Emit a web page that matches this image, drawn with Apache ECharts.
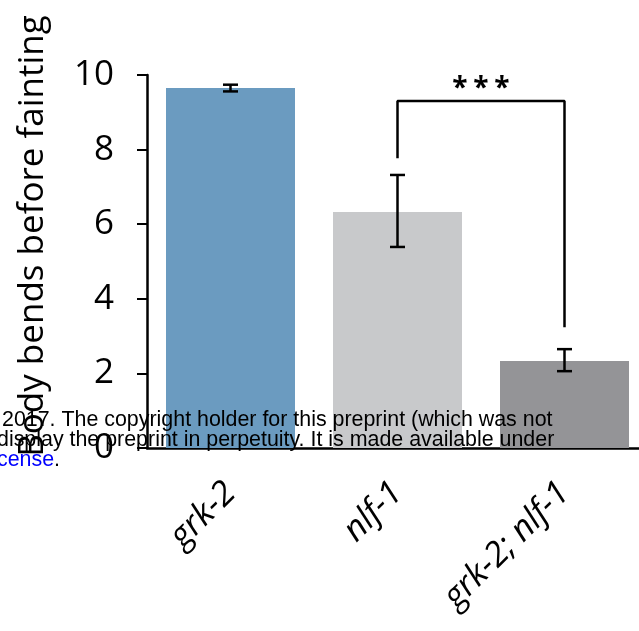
<!DOCTYPE html>
<html>
<head>
<meta charset="utf-8">
<script src="https://cdn.jsdelivr.net/npm/echarts@6/dist/echarts.min.js"></script>
<style>
html, body { margin: 0; padding: 0; background: #fff; }
#chart { width: 639px; height: 631px; }
</style>
</head>
<body>
<div id="chart"></div>
<script>
// data
const categories = ['grk-2', 'nlf-1', 'grk-2; nlf-1']
const means = [9.65, 6.33, 2.33]
const errLow = [9.56, 5.39, 2.06]
const errHigh = [9.74, 7.32, 2.65]
const barColors = ['#6b9bc0', '#c8c9cb', '#949497']
// significance bracket between nlf-1 and grk-2; nlf-1
const bracketPoints = [[1, 7.77], [1, 9.3], [2, 9.3], [2, 3.24]]
const sigLabel = '***'
const sigY = 10.0
const yTitle = 'Body bends before fainting'
const noticeLines = [
	'2017. The copyright holder for this preprint (which was not',
	'display the preprint in perpetuity. It is made available under',
]

const chart = echarts.init(document.getElementById('chart'))

const option = {
	animation: false,
	grid: { left: 147, top: 75, width: 501, height: 373, outerBoundsMode: 'none' },
	xAxis: {
		type: 'category',
		data: categories,
		axisLine: { lineStyle: { color: '#000', width: 2.5 } },
		axisTick: { show: false },
		axisLabel: {
			rotate: 45,
			margin: 40,
			color: '#000',
			fontSize: 34,
			fontStyle: 'italic',
			fontFamily: 'Open Sans',
		},
	},
	yAxis: {
		type: 'value',
		min: 0,
		max: 10,
		interval: 2,
		splitLine: { show: false },
		axisLine: { show: true, lineStyle: { color: '#000', width: 2.5 } },
		axisTick: { show: true, length: 10, lineStyle: { color: '#000', width: 2 } },
		axisLabel: { margin: 33, color: '#000', fontSize: 35, fontFamily: 'Open Sans' },
	},
	series: [
		{
			type: 'bar',
			barWidth: 129,
			data: means.map((v, i) => ({ value: v, itemStyle: { color: barColors[i] } })),
		},
		{
			// error bars
			type: 'custom',
			z: 5,
			data: categories.map((c, i) => [i, errLow[i], errHigh[i]]),
			renderItem(params, api) {
				const lo = api.coord([api.value(0), api.value(1)])
				const hi = api.coord([api.value(0), api.value(2)])
				const cap = 7.5
				const style = { stroke: '#000', lineWidth: 2.5 }
				return {
					type: 'group',
					children: [
						{ type: 'line', shape: { x1: lo[0], y1: lo[1], x2: hi[0], y2: hi[1] }, style },
						{ type: 'line', shape: { x1: lo[0] - cap, y1: lo[1], x2: lo[0] + cap, y2: lo[1] }, style },
						{ type: 'line', shape: { x1: hi[0] - cap, y1: hi[1], x2: hi[0] + cap, y2: hi[1] }, style },
					],
				}
			},
		},
		{
			type: 'line',
			z: 6,
			symbol: 'none',
			lineStyle: { color: '#000', width: 2.5 },
			data: bracketPoints,
		},
		{
			// stars over the bracket, spaced out like the original
			type: 'custom',
			z: 6,
			data: [[bracketPoints[1][0], bracketPoints[2][0], sigY]],
			renderItem(params, api) {
				const a = api.coord([api.value(0), api.value(2)])
				const b = api.coord([api.value(1), api.value(2)])
				const cx = (a[0] + b[0]) / 2
				return {
					type: 'group',
					children: sigLabel.split('').map((s, k) => ({
						type: 'text',
						style: {
							x: cx + (k - 1) * 21,
							y: a[1],
							text: s,
							fill: '#000',
							font: 'bold 28px "Open Sans"',
							align: 'center',
							verticalAlign: 'top',
						},
					})),
				}
			},
		},
	],
	graphic: [
		{
			type: 'text',
			x: 33,
			y: 236,
			rotation: Math.PI / 2,
			style: {
				text: yTitle,
				fill: '#000',
				font: '35px "Open Sans"',
				align: 'center',
				verticalAlign: 'middle',
			},
		},
		{
			type: 'text',
			z: 100,
			x: 2,
			y: 420,
			style: { text: noticeLines[0], fill: '#000', font: '21.4px "Liberation Sans"', verticalAlign: 'middle' },
		},
		{
			type: 'text',
			z: 100,
			x: -3,
			y: 440,
			style: { text: noticeLines[1], fill: '#000', font: '21.4px "Liberation Sans"', verticalAlign: 'middle' },
		},
		{
			type: 'text',
			z: 100,
			x: -3,
			y: 460,
			style: {
				text: '{a|cense}.',
				fill: '#000',
				font: '21.4px "Liberation Sans"',
				verticalAlign: 'middle',
				rich: { a: { fill: '#0000ff', font: '21.4px "Liberation Sans"' } },
			},
		},
	],
}

chart.setOption(option)
</script>
</body>
</html>
